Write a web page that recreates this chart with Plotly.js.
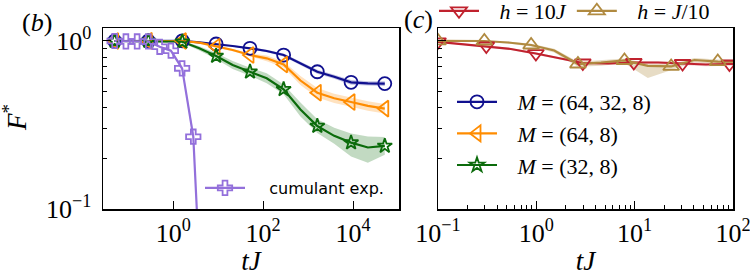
<!DOCTYPE html>
<html><head><meta charset="utf-8">
<script src="https://cdn.plot.ly/plotly-3.0.1.min.js"></script>
<style>body{margin:0;background:#fff}#chart{width:750px;height:276px}</style>
</head><body><div id="chart"></div>
<script>
// ---------- panel (b) data ----------
const tB = [0.05, 0.12, 0.28, 0.67, 1.6, 3.8, 9, 21, 51, 120, 285, 675, 1600, 3800, 9000, 21300, 50600];
const fBlue   = [0.996, 0.996, 0.996, 0.996, 0.998, 0.978, 0.956, 0.93, 0.901, 0.869, 0.822, 0.734, 0.654, 0.611, 0.566, 0.558, 0.556];
const loBlue  = [0.99, 0.99, 0.99, 0.99, 0.992, 0.971, 0.948, 0.92, 0.89, 0.855, 0.806, 0.717, 0.636, 0.594, 0.548, 0.541, 0.538];
const hiBlue  = [1.0, 1.0, 1.0, 1.0, 1.0, 0.985, 0.964, 0.94, 0.912, 0.883, 0.838, 0.751, 0.672, 0.628, 0.584, 0.575, 0.574];
const fOrange  = [0.996, 0.996, 0.998, 0.998, 0.996, 0.973, 0.921, 0.88, 0.822, 0.786, 0.722, 0.58, 0.491, 0.455, 0.432, 0.41, 0.395];
const loOrange = [0.99, 0.99, 0.992, 0.992, 0.99, 0.963, 0.907, 0.866, 0.805, 0.755, 0.693, 0.545, 0.46, 0.427, 0.405, 0.384, 0.37];
const hiOrange = [1.0, 1.0, 1.0, 1.0, 1.0, 0.983, 0.935, 0.894, 0.839, 0.818, 0.752, 0.617, 0.523, 0.484, 0.46, 0.437, 0.421];
const fGreen  = [0.996, 0.996, 0.996, 0.994, 0.986, 0.901, 0.811, 0.717, 0.654, 0.598, 0.514, 0.39, 0.311, 0.272, 0.248, 0.232, 0.237];
const loGreen = [0.982, 0.982, 0.982, 0.98, 0.972, 0.876, 0.778, 0.679, 0.619, 0.558, 0.48, 0.355, 0.283, 0.244, 0.205, 0.188, 0.21];
const hiGreen = [1.0, 1.0, 1.0, 1.0, 1.0, 0.926, 0.845, 0.757, 0.691, 0.64, 0.55, 0.429, 0.342, 0.304, 0.281, 0.27, 0.268];
const tCum  = [0.05, 0.089, 0.158, 0.28, 0.5, 0.89, 1.58, 2.8, 3.45];
const fCum  = [0.996, 0.99, 0.99, 0.99, 0.92, 0.872, 0.685, 0.269, 0.085];
const loCum = [0.99, 0.984, 0.984, 0.984, 0.91, 0.855, 0.66, 0.25, 0.075];
const hiCum = [1.0, 0.996, 0.996, 0.996, 0.93, 0.889, 0.71, 0.29, 0.095];
// ---------- panel (c) data ----------
const tRed  = [0.1, 0.175, 0.31, 0.55, 0.99, 1.7, 2.97, 5.4, 9.8, 17.3, 30.7, 53, 92, 100];
const fRed  = [0.985, 0.956, 0.93, 0.893, 0.839, 0.79, 0.737, 0.732, 0.742, 0.742, 0.732, 0.722, 0.727, 0.727];
const loRed = [0.975, 0.945, 0.918, 0.88, 0.826, 0.776, 0.724, 0.719, 0.73, 0.73, 0.718, 0.705, 0.71, 0.71];
const hiRed = [0.995, 0.967, 0.942, 0.906, 0.852, 0.804, 0.75, 0.745, 0.754, 0.754, 0.746, 0.739, 0.744, 0.744];
const tTan  = [0.1, 0.171, 0.296, 0.512, 0.885, 1.52, 2.65, 4.55, 7.87, 13.6, 23.5, 40.5, 70, 100];
const fTan  = [0.997, 0.997, 0.996, 0.976, 0.943, 0.875, 0.727, 0.742, 0.763, 0.708, 0.703, 0.768, 0.752, 0.75];
const loTan = [0.985, 0.985, 0.984, 0.962, 0.925, 0.85, 0.7, 0.71, 0.735, 0.6, 0.67, 0.745, 0.73, 0.73];
const hiTan = [1.0, 1.0, 1.0, 0.99, 0.958, 0.895, 0.75, 0.77, 0.785, 0.73, 0.725, 0.788, 0.772, 0.77];

const GAP22 = '\u2002\u2009';   // spacing between legend handle and text
const GAP16 = '\u2003\u2009';
const seriesB = [
  {name:GAP22 + '<i>M</i> = (64, 32, 8)', t:tB, f:fBlue, lo:loBlue, hi:hiBlue, color:'#10108f', fill:'rgba(16,16,143,0.25)', symbol:'circle-open', size:13, every:2},
  {name:GAP22 + '<i>M</i> = (64, 8)', t:tB, f:fOrange, lo:loOrange, hi:hiOrange, color:'#ff8c00', fill:'rgba(255,140,0,0.25)', symbol:'triangle-left-open', size:14, every:2},
  {name:GAP22 + '<i>M</i> = (32, 8)', t:tB, f:fGreen, lo:loGreen, hi:hiGreen, color:'#0b6b0b', fill:'rgba(11,107,11,0.25)', symbol:'star-open', size:11, every:2}
];
const seriesCum = {name:GAP16 + 'cumulant exp.', t:tCum, f:fCum, lo:loCum, hi:hiCum, color:'#9370db', fill:'rgba(147,112,219,0.3)', symbol:'cross-open', size:12, every:1, nmark:8};
const seriesC = [
  {name:GAP22 + '<i>h</i> = 10<i>J</i>', t:tRed, f:fRed, lo:loRed, hi:hiRed, color:'#c0222e', fill:'rgba(192,34,46,0.2)', symbol:'triangle-down-open', size:14, every:2},
  {name:GAP22 + '<i>h</i> = <i>J</i>/10', t:tTan, f:fTan, lo:loTan, hi:hiTan, color:'#b08a40', fill:'rgba(176,138,64,0.3)', symbol:'triangle-up-open', size:14, every:2}
];

const bands = [], lines = [], marks = [], legs = [];
function add(s, xa, ya, legendName) {
  bands.push({x:s.t, y:s.lo, xaxis:xa, yaxis:ya, mode:'lines', line:{width:0, color:s.fill}, showlegend:false, hoverinfo:'skip'});
  bands.push({x:s.t, y:s.hi, xaxis:xa, yaxis:ya, mode:'lines', line:{width:0, color:s.fill}, fill:'tonexty', fillcolor:s.fill, showlegend:false, hoverinfo:'skip'});
  lines.push({x:s.t, y:s.f, xaxis:xa, yaxis:ya, mode:'lines', line:{width:2.2, color:s.color}, showlegend:false});
  const n = s.nmark || s.t.length;
  const mx = s.t.filter((_, i) => i % s.every === 0 && i < n);
  const my = s.f.filter((_, i) => i % s.every === 0 && i < n);
  marks.push({x:mx, y:my, xaxis:xa, yaxis:ya, mode:'markers', marker:{symbol:s.symbol, size:s.size, color:s.color, line:{width:1.8, color:s.color}}, showlegend:false});
  legs.push({x:[null], y:[null], xaxis:xa, yaxis:ya, mode:'lines+markers', name:s.name, legend:legendName,
    line:{width:2.2, color:s.color}, marker:{symbol:s.symbol, size:s.size, color:s.color, line:{width:1.8, color:s.color}}});
}
seriesB.forEach(s => add(s, 'x', 'y', 'legend2'));
add(seriesCum, 'x', 'y', 'legend');
seriesC.forEach(s => add(s, 'x2', 'y2', 'legend3'));

const serif = "'Liberation Serif', 'Times New Roman', serif";
const tickF = {family:serif, size:26, color:'black'};
const yMinor = [0.2,0.3,0.4,0.5,0.6,0.7,0.8,0.9];
const common = {type:'log', showgrid:false, zeroline:false, showline:true, mirror:true, linecolor:'black', linewidth:1.5,
  ticks:'inside', ticklen:8, tickwidth:1.2, tickcolor:'black', tickfont:tickF, tickmode:'array', automargin:false,
  ticklabeloverflow:'allow'};
const yDom = [67/276, 248/276];
const layout = {
  width:750, height:276, margin:{l:0, r:0, t:0, b:0, autoexpand:false}, paper_bgcolor:'white', plot_bgcolor:'white',
  showlegend:true,
  xaxis: Object.assign({}, common, {domain:[103/750, 399/750], range:[-1.56, 5.02], anchor:'y',
    tickvals:[1, 100, 10000], ticktext:['10<sup>0</sup>', '10<sup>2</sup>', '10<sup>4</sup>'],
    title:{text:'<i>tJ</i>', font:{family:serif, size:27, color:'black'}, standoff:4}}),
  yaxis: Object.assign({}, common, {domain:yDom, range:[-1, 0.0755], anchor:'x', ticklabelstandoff:5,
    tickvals:[0.1, 1], ticktext:['10<sup>−1</sup>', '10<sup>0</sup>'],
    minor:{tickvals:yMinor, ticks:'inside', ticklen:4, tickwidth:1, tickcolor:'black'}}),
  xaxis2: Object.assign({}, common, {domain:[438/750, 733/750], range:[-1, 2], anchor:'y2',
    tickvals:[0.1, 1, 10, 100], ticktext:['10<sup>−1</sup>', '10<sup>0</sup>', '10<sup>1</sup>', '10<sup>2</sup>'],
    minor:{tickvals:[0.2,0.3,0.4,0.5,0.6,0.7,0.8,0.9,2,3,4,5,6,7,8,9,20,30,40,50,60,70,80,90], ticks:'inside', ticklen:4, tickwidth:1, tickcolor:'black'},
    title:{text:'<i>tJ</i>', font:{family:serif, size:27, color:'black'}, standoff:4}}),
  yaxis2: Object.assign({}, common, {domain:yDom, range:[-1, 0.0755], anchor:'x2',
    tickvals:[0.1, 1], showticklabels:false,
    minor:{tickvals:yMinor, ticks:'inside', ticklen:4, tickwidth:1, tickcolor:'black'}}),
  legend: {x:200/750, y:(276-188)/276, xanchor:'left', yanchor:'middle', bgcolor:'rgba(0,0,0,0)',
    font:{family:'DejaVu Sans, sans-serif', size:16, color:'black'}, itemwidth:40},
  legend2: {x:452/750, y:(276-81)/276, xanchor:'left', yanchor:'top', bgcolor:'rgba(0,0,0,0)',
    font:{family:serif, size:22, color:'black'}, itemwidth:40},
  legend3: {x:434/750, y:(276-11)/276, xanchor:'left', yanchor:'middle', orientation:'h', bgcolor:'rgba(0,0,0,0)',
    font:{family:serif, size:22, color:'black'}, itemwidth:40},
  annotations: [
    {text:'(<i>b</i>)', x:37/750, y:(276-22)/276, xref:'paper', yref:'paper', xanchor:'center', yanchor:'middle', showarrow:false, font:{family:serif, size:26, color:'black'}},
    {text:'(<i>c</i>)', x:418/750, y:(276-20)/276, xref:'paper', yref:'paper', xanchor:'center', yanchor:'middle', showarrow:false, font:{family:serif, size:26, color:'black'}},
    {text:'<i>F</i><sup>*</sup>', x:15/750, y:(276-118)/276, xref:'paper', yref:'paper', xanchor:'center', yanchor:'middle', textangle:-90, showarrow:false, font:{family:serif, size:27, color:'black'}}
  ]
};
Plotly.newPlot('chart', bands.concat(lines, marks, legs), layout, {staticPlot:true, displayModeBar:false});
</script></body></html>
